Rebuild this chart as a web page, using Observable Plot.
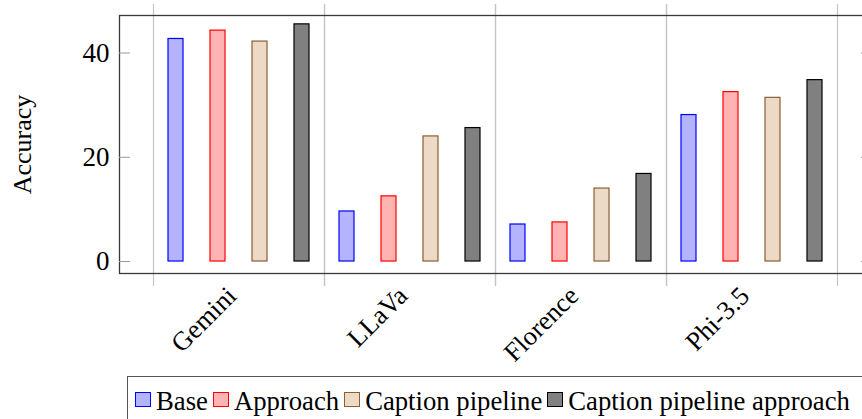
<!DOCTYPE html>
<html>
<head>
<meta charset="utf-8">
<script src="https://cdn.jsdelivr.net/npm/d3@7"></script>
<script src="https://cdn.jsdelivr.net/npm/@observablehq/plot@0.6"></script>
<style>
  html, body { margin: 0; padding: 0; background: #fff; overflow: hidden; width: 862px; height: 419px; }
  #wrap { position: relative; width: 900px; height: 440px; font-family: "Liberation Serif", "Times New Roman", serif; }
  #legend { position: absolute; left: 127px; top: 376px; width: 736px; height: 46px; border: 1px solid #555;
            display: flex; align-items: flex-start; padding-left: 7px; box-sizing: border-box; }
  .item { display: flex; align-items: flex-start; margin-right: 5px; }
  .sw { width: 14px; height: 13px; margin-top: 15px; margin-right: 5px; box-sizing: content-box; }
  .lt { font-size: 26.7px; line-height: 1; margin-top: 11px; white-space: nowrap; color: #000; }
</style>
</head>
<body>
<div id="wrap"><div id="chart"></div><div id="legend"></div></div>
<script>
const models = ["Gemini", "LLaVa", "Florence", "Phi-3.5"];
const series = ["Base", "Approach", "Caption pipeline", "Caption pipeline approach"];
const base = [42.7, 9.6, 7.1, 28.1];
const approach = [44.3, 12.5, 7.5, 32.5];
const captionPipeline = [42.2, 24.0, 14.0, 31.4];
const captionPipelineApproach = [45.5, 25.6, 16.8, 34.8];
const yTicks = [0, 20, 40];
const yLabel = "Accuracy";

const fills = ["#b3b3ff", "#ffb3b3", "#ecd9c6", "#808080"];
const strokes = ["#0000ff", "#ff0000", "#8b5e34", "#000000"];

const valuesBySeries = [base, approach, captionPipeline, captionPipelineApproach];
const data = [];
models.forEach((m, i) => series.forEach((s, j) => data.push({model: m, series: s, value: valuesBySeries[j][i]})));
const strokeOf = new Map(series.map((s, j) => [s, strokes[j]]));

const font = "Liberation Serif, Times New Roman, serif";

const chart = Plot.plot({
  width: 900,
  height: 365,
  marginLeft: 152,
  marginRight: 61.5,
  marginTop: 15,
  marginBottom: 92,
  style: {fontFamily: font, background: "white", overflow: "visible"},
  fx: {domain: models, padding: 0, label: null},
  x: {domain: series, paddingInner: 0.65, paddingOuter: 0.325, axis: null, label: null},
  y: {domain: [-2.3, 47.2], label: null},
  color: {domain: series, range: fills},
  marks: [
    Plot.frame({anchor: "left", stroke: "#c4c4c4", strokeWidth: 1.2, insetTop: -11, insetBottom: -12}),
    Plot.frame({anchor: "right", stroke: "#c4c4c4", strokeWidth: 1.2, insetTop: -11, insetBottom: -12}),
    Plot.barY(data, {
      fx: "model", x: "series", y: "value", fill: "series",
      stroke: {value: d => strokeOf.get(d.series), scale: null}, strokeWidth: 1.2
    }),
    Plot.frame({facet: "super", stroke: "#3a3a3a", strokeWidth: 1.3, insetLeft: -34, insetRight: -34}),
    Plot.axisY({anchor: "left", ticks: yTicks, tickSize: 11, tickPadding: 10, dx: -23, label: null,
      stroke: "#9a9a9a", fill: "#000", fontSize: 27, fontFamily: font}),
    Plot.axisY({anchor: "right", ticks: yTicks, tickSize: 11, dx: 23, label: null,
      tickFormat: () => "", stroke: "#9a9a9a"}),
    Plot.axisFx({anchor: "bottom", tickRotate: -45, tickSize: 0, tickPadding: 16, dx: -7, dy: 2, label: null,
      fill: "#000", fontSize: 26.5, fontFamily: font}),
    Plot.text([yLabel], {facet: "super", frameAnchor: "left", textAnchor: "middle", rotate: -90, dx: -131, fontSize: 26,
      fontFamily: font, fill: "#000"})
  ]
});
document.getElementById("chart").appendChild(chart);

const legend = document.getElementById("legend");
series.forEach((s, j) => {
  const item = document.createElement("div");
  item.className = "item";
  const sw = document.createElement("div");
  sw.className = "sw";
  sw.style.background = fills[j];
  sw.style.border = "1px solid " + strokes[j];
  const t = document.createElement("span");
  t.className = "lt";
  t.textContent = s;
  item.appendChild(sw);
  item.appendChild(t);
  legend.appendChild(item);
});
</script>
</body>
</html>
